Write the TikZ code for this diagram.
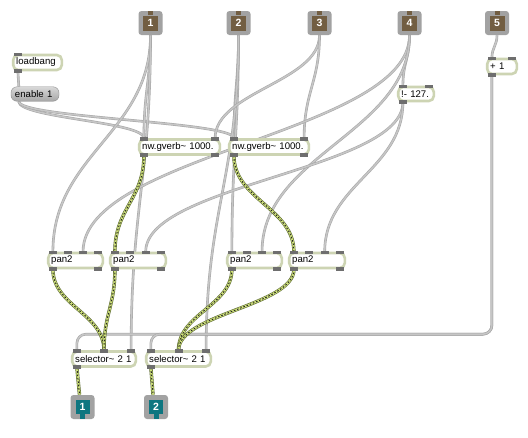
\documentclass[tikz,border=0pt]{standalone}
\usepackage{fontspec}
\setmainfont{Liberation Sans}
\usetikzlibrary{calc,backgrounds}
\tikzset{every picture/.style={line width=0.75pt}}

\definecolor{boxrim}{HTML}{CDD4B3}
\definecolor{porttab}{HTML}{6E6E6E}
\definecolor{cordgray}{HTML}{C6C6C6}
\definecolor{cordedge}{HTML}{A6A6A6}
\definecolor{sigfill}{HTML}{D0E27C}
\definecolor{sigedge}{HTML}{5A682E}
\definecolor{ioframe}{HTML}{A2A2A2}
\definecolor{inbrown}{HTML}{725E42}
\definecolor{outteal}{HTML}{0E7680}
\definecolor{msgtop}{HTML}{D8D8D8}
\definecolor{msgbot}{HTML}{A6A6A6}

\newcommand{\patchfont}{\fontsize{9.6}{11}\selectfont}
\newcommand{\iofont}{\fontsize{10.5}{12}\selectfont\bfseries}

% inlets on top, outlets at the bottom of a box
\newcommand{\ports}[3]{%
  \foreach \k in {1,...,#2}{%
    \path let \p1=(#1.north west), \p2=(#1.north east) in
      ({\x1+6pt+(\k-1)*(\x2-\x1-12pt)/max(#2-1,1)}, \y1) coordinate (#1-i\k);
    \fill[porttab] ($(#1-i\k)+(-4,-1.2)$) rectangle ++(8,3.6);
  }%
  \foreach \k in {1,...,#3}{%
    \path let \p1=(#1.south west), \p2=(#1.south east) in
      ({\x1+6pt+(\k-1)*(\x2-\x1-12pt)/max(#3-1,1)}, \y1) coordinate (#1-o\k);
    \fill[porttab] ($(#1-o\k)+(-4,1.2)$) rectangle ++(8,-3.6);
  }%
}

\begin{document}
\begin{tikzpicture}[x=1pt,y=-1pt,
    obj/.style={draw=boxrim, line width=2.6pt, fill=white, rounded corners=5pt,
      inner xsep=3pt, inner ysep=0pt, minimum height=15pt, align=left, font=\patchfont},
    msg/.style={top color=msgtop, bottom color=msgbot, draw=msgbot!85!black, line width=0.4pt,
      rounded corners=6pt, inner xsep=4pt, inner ysep=0pt, minimum height=14.5pt,
      text width=40pt, align=left, font=\patchfont},
    ioframe/.style={fill=ioframe, rounded corners=3pt, minimum size=24pt, inner sep=0pt},
    incore/.style={fill=inbrown, minimum size=15pt, inner sep=0pt, text=white, font=\iofont},
    outcore/.style={fill=outteal, minimum size=14pt, inner sep=0pt, text=white, font=\iofont},
    patchcord/.style={draw=cordedge, line width=2.6pt, postaction={draw=cordgray, line width=1.5pt}},
    sigcord/.style={draw=sigedge, line width=3.4pt, postaction={draw=sigfill, line width=2.2pt},
      postaction={draw=black!85, line width=1pt, dash pattern=on 1.6pt off 1.8pt}},
    cordbend/.style={to path={.. controls ($(\tikztostart)!#1!(\tikztostart |- \tikztotarget)$)
      and ($(\tikztotarget)!#1!(\tikztotarget |- \tikztostart)$) .. (\tikztotarget)}},
    cordbend/.default=0.45]
    \useasboundingbox (0,0) rectangle (528,437);

    % inlets
    \foreach \k/\px in {1/150.5, 2/238.5, 3/319.5, 4/409.5, 5/497}{
      \node[ioframe] (in\k) at (\px,23) {};
      \node[incore] (in\k-core) at (in\k) {\k};
      \fill[inbrown] ($(in\k-core.north)+(-2.5,0)$) rectangle ($(in\k.north)+(2.5,0)$);
    }

    % outlets
    \foreach \k/\px in {1/82.5, 2/156}{
      \node[ioframe] (out\k) at (\px,407) {};
      \node[outcore] (out\k-core) at ($(out\k)+(0,-0.5)$) {\k};
      \fill[outteal] ($(out\k-core.south)+(-2.5,0)$) rectangle ($(out\k.south)+(2.5,0)$);
      \coordinate (out\k-in) at ($(out\k.north)+(-3,0)$);
    }

    % startup
    \node[obj, text width=42.6pt] (loadbang) at (37.5,62.5) {loadbang};
    \ports{loadbang}{1}{1}
    \node[msg] (enable) at (35,94) {enable 1};
    \coordinate (enable-i1) at ($(enable.north west)+(8,0)$);
    \coordinate (enable-o1) at ($(enable.south west)+(8,0)$);

    % reverbs
    \node[obj, text width=74.6pt] (gverb1) at (179.5,147) {nw.gverb\char`~{} 1000.};
    \node[obj, text width=73.6pt] (gverb2) at (269,147) {nw.gverb\char`~{} 1000.};
    \ports{gverb1}{2}{2}
    \ports{gverb2}{2}{2}

    % control maths
    \node[obj, text width=29.6pt, minimum height=14pt] (minus) at (416,94) {!- 127.};
    \node[obj, text width=23.6pt] (plus) at (502,66.5) {+ 1};
    \ports{minus}{2}{1}
    \ports{plus}{2}{1}

    % panners
    \node[obj, text width=48.6pt] (pan1) at (75.5,260.5) {pan2};
    \node[obj, text width=49.6pt] (pan2) at (138,260.5) {pan2};
    \node[obj, text width=48.6pt] (pan3) at (254.5,260.5) {pan2};
    \node[obj, text width=49.6pt] (pan4) at (317,260.5) {pan2};
    \foreach \pn in {pan1,pan2,pan3,pan4}{\ports{\pn}{4}{2}}

    % selectors
    \node[obj, text width=57.6pt] (sel1) at (104,359) {selector\char`~{} 2 1};
    \node[obj, text width=58.6pt] (sel2) at (178.5,359) {selector\char`~{} 2 1};
    \ports{sel1}{3}{1}
    \ports{sel2}{3}{1}

    \begin{scope}[on background layer]
      \fill[white] (0,0) rectangle (528,437);
      % message cords
      \draw[patchcord] (loadbang-o1) -- (enable-i1);
      \draw[patchcord] (enable-o1) to[cordbend] (gverb1-i1);
      \draw[patchcord] (enable-o1) to[cordbend] (gverb2-i1);
      \draw[patchcord] (in1.south) to[cordbend] (gverb1-i1);
      \draw[patchcord] (in1.south) to[cordbend] (pan1-i1);
      \draw[patchcord] (in1.south) to[cordbend] (sel1-i3);
      \draw[patchcord] (in2.south) to[cordbend] (gverb2-i1);
      \draw[patchcord] (in2.south) to[cordbend] (pan3-i1);
      \draw[patchcord] (in2.south) to[cordbend] (sel2-i3);
      \draw[patchcord] (in3.south) to[cordbend] (gverb1-i2);
      \draw[patchcord] (in3.south) to[cordbend] (gverb2-i2);
      \draw[patchcord] (in4.south) to[cordbend] (minus-i1);
      \draw[patchcord] (in4.south) to[cordbend] (pan1-i3);
      \draw[patchcord] (in4.south) to[cordbend] (pan3-i3);
      \draw[patchcord] (minus-o1) to[cordbend] (pan2-i3);
      \draw[patchcord] (minus-o1) to[cordbend] (pan4-i3);
      \draw[patchcord] (in5.south) to[cordbend] (plus-i1);
      \draw[patchcord, rounded corners=9pt] (plus-o1) |- ($(sel1-i1)+(0,-16)$) -- (sel1-i1);
      \draw[patchcord, rounded corners=9pt] (plus-o1) |- ($(sel2-i1)+(0,-16)$) -- (sel2-i1);
      % signal cords
      \draw[sigcord] (gverb1-o1) to[cordbend] (pan2-i1);
      \draw[sigcord] (gverb2-o1) to[cordbend] (pan4-i1);
      \draw[sigcord] (pan1-o1) to[cordbend] (sel1-i2);
      \draw[sigcord] (pan2-o1) to[cordbend] (sel1-i2);
      \draw[sigcord] (pan3-o1) to[cordbend] (sel2-i2);
      \draw[sigcord] (pan4-o1) to[cordbend] (sel2-i2);
      \draw[sigcord] (sel1-o1) -- (out1-in);
      \draw[sigcord] (sel2-o1) -- (out2-in);
    \end{scope}
\end{tikzpicture}
\end{document}
